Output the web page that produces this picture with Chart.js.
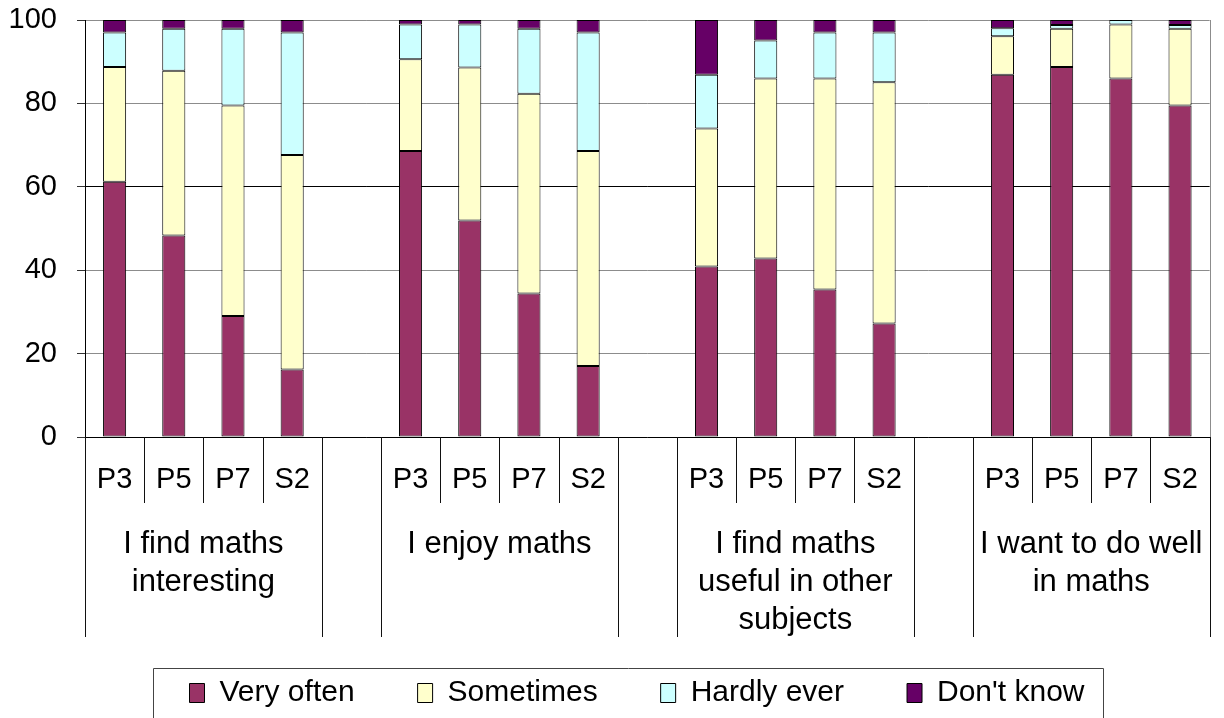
<!DOCTYPE html>
<html>
<head>
<meta charset="utf-8">
<script src="https://cdn.jsdelivr.net/npm/chart.js@4.4.1/dist/chart.umd.min.js"></script>
<style>
  html, body { margin: 0; padding: 0; background: #fff; }
  #wrap { width: 1224px; height: 718px; }
</style>
</head>
<body>
<div id="wrap"><canvas id="c" width="1224" height="718"></canvas></div>
<script>
// ---- data ----
const years = ['P3', 'P5', 'P7', 'S2'];
const groupNames = [
  ['I find maths', 'interesting'],
  ['I enjoy maths'],
  ['I find maths', 'useful in other', 'subjects'],
  ['I want to do well', 'in maths']
];
// values per group, in order P3, P5, P7, S2 (percent)
const veryOften = [61.2, 48.3, 29.0, 16.2,  68.6, 51.9, 34.4, 17.0,  40.9, 42.8, 35.4, 27.2,  86.9, 88.7, 86.0, 79.5];
const sometimes = [27.5, 39.5, 50.5, 51.4,  22.0, 36.7, 47.9, 51.6,  33.1, 43.2, 50.6, 57.9,   9.2,  9.2, 12.9, 18.4];
const hardlyEver = [8.3, 10.1, 18.4, 29.4,   8.3, 10.3, 15.6, 28.4,  12.9,  9.1, 11.0, 11.9,   1.9,  0.9,  1.1,  0.9];
const dontKnow  = [ 3.0,  2.1,  2.1,  3.0,   1.1,  1.1,  2.1,  3.0,  13.1,  4.9,  3.0,  3.0,   2.0,  1.2,  0.0,  1.2];
const yTicks = [0, 20, 40, 60, 80, 100];

// ---- build category table with blank gap slots between groups ----
const labels = [];
groupNames.forEach((g, gi) => {
  years.forEach(y => labels.push(y));
  if (gi < groupNames.length - 1) labels.push('');
});
function spread(arr) {
  const out = [];
  for (let g = 0; g < groupNames.length; g++) {
    for (let i = 0; i < years.length; i++) out.push(arr[g * years.length + i]);
    if (g < groupNames.length - 1) out.push(null);
  }
  return out;
}

const FONT = '"Liberation Sans", Arial, Helvetica, sans-serif';
Chart.defaults.font.family = FONT;
Chart.defaults.color = '#000';

const decor = {
  id: 'decor',
  afterLayout(chart) {
    // shift the legend row to the right, as in the original
    const lg = chart.legend;
    if (lg) { lg.left += 29; lg.right += 29; }
  },
  afterDraw(chart) {
    const { ctx, chartArea } = chart;
    const x = chart.scales.x;
    const slot = x.getPixelForValue(1) - x.getPixelForValue(0);
    const start = x.getPixelForValue(0) - slot / 2;
    const top = Math.round(chartArea.bottom);
    ctx.save();
    // right border of plot
    ctx.strokeStyle = '#8c8c8c';
    ctx.lineWidth = 1;
    ctx.beginPath();
    const rx = Math.round(chartArea.right) + 0.5;
    ctx.moveTo(rx, chartArea.top);
    ctx.lineTo(rx, chartArea.bottom);
    ctx.stroke();
    // category separators
    ctx.strokeStyle = '#111';
    for (let k = 0; k <= labels.length; k++) {
      const px = Math.round(start + k * slot) + 0.5;
      const long = (k % 5 === 0) || (k % 5 === 4);
      ctx.beginPath();
      ctx.moveTo(px, top);
      ctx.lineTo(px, top + (long ? 200 : 66));
      ctx.stroke();
    }
    // group labels
    ctx.fillStyle = '#000';
    ctx.font = '31px ' + FONT;
    ctx.textAlign = 'center';
    ctx.textBaseline = 'alphabetic';
    groupNames.forEach((lines, gi) => {
      const cx = (x.getPixelForValue(gi * 5 + 1) + x.getPixelForValue(gi * 5 + 2)) / 2;
      lines.forEach((t, li) => ctx.fillText(t, cx, top + 116 + li * 38));
    });
    // legend frame
    const lg = chart.legend;
    if (lg && lg.legendHitBoxes && lg.legendHitBoxes.length) {
      const hb = lg.legendHitBoxes;
      const l = Math.round(hb[0].left - 37) + 0.5;
      const last = hb[hb.length - 1];
      const r = Math.round(last.left + last.width + 19) + 0.5;
      const t = Math.round(hb[0].top - 10) + 0.5;
      ctx.strokeStyle = '#444';
      ctx.beginPath();
      ctx.moveTo(l, chart.height + 2);
      ctx.lineTo(l, t);
      ctx.lineTo(r, t);
      ctx.lineTo(r, chart.height + 2);
      ctx.stroke();
    }
    ctx.restore();
  }
};

const mk = (label, data, color) => ({
  label,
  data: spread(data),
  backgroundColor: color,
  borderColor: '#000',
  borderWidth: 1,
  borderSkipped: false,
  barPercentage: 0.39,
  categoryPercentage: 1.0
});

new Chart(document.getElementById('c'), {
  type: 'bar',
  data: {
    labels,
    datasets: [
      mk('Very often', veryOften, '#993366'),
      mk('Sometimes', sometimes, '#FFFFCC'),
      mk('Hardly ever', hardlyEver, '#CCFFFF'),
      mk("Don't know", dontKnow, '#660066')
    ]
  },
  options: {
    responsive: false,
    animation: false,
    layout: { padding: { left: 0, right: 8, top: 20, bottom: 0 } },
    plugins: {
      tooltip: { enabled: false },
      legend: {
        position: 'bottom',
        labels: {
          font: { size: 30 },
          color: '#000',
          boxWidth: 15,
          boxHeight: 19,
          padding: 63
        }
      }
    },
    scales: {
      x: {
        stacked: true,
        offset: true,
        grid: { display: false, drawTicks: false },
        border: { display: true, color: '#000', width: 1 },
        ticks: { font: { size: 29 }, color: '#000', padding: 26, maxRotation: 0, autoSkip: false },
        afterFit(scale) { scale.height = 178; }
      },
      y: {
        stacked: true,
        min: 0,
        max: 100,
        afterBuildTicks(scale) { scale.ticks = yTicks.map(v => ({ value: v })); },
        grid: {
          color: ctx => (ctx.tick && ctx.tick.value === 60 ? '#000' : '#8c8c8c'),
          tickColor: '#333',
          tickLength: 8,
          lineWidth: 1
        },
        border: { display: true, color: '#000', width: 1 },
        ticks: { font: { size: 29 }, color: '#000', padding: 20 },
        afterFit(scale) { scale.width = 85; scale.paddingTop = 0; scale.paddingBottom = 0; }
      }
    }
  },
  plugins: [decor]
});
</script>
</body>
</html>
